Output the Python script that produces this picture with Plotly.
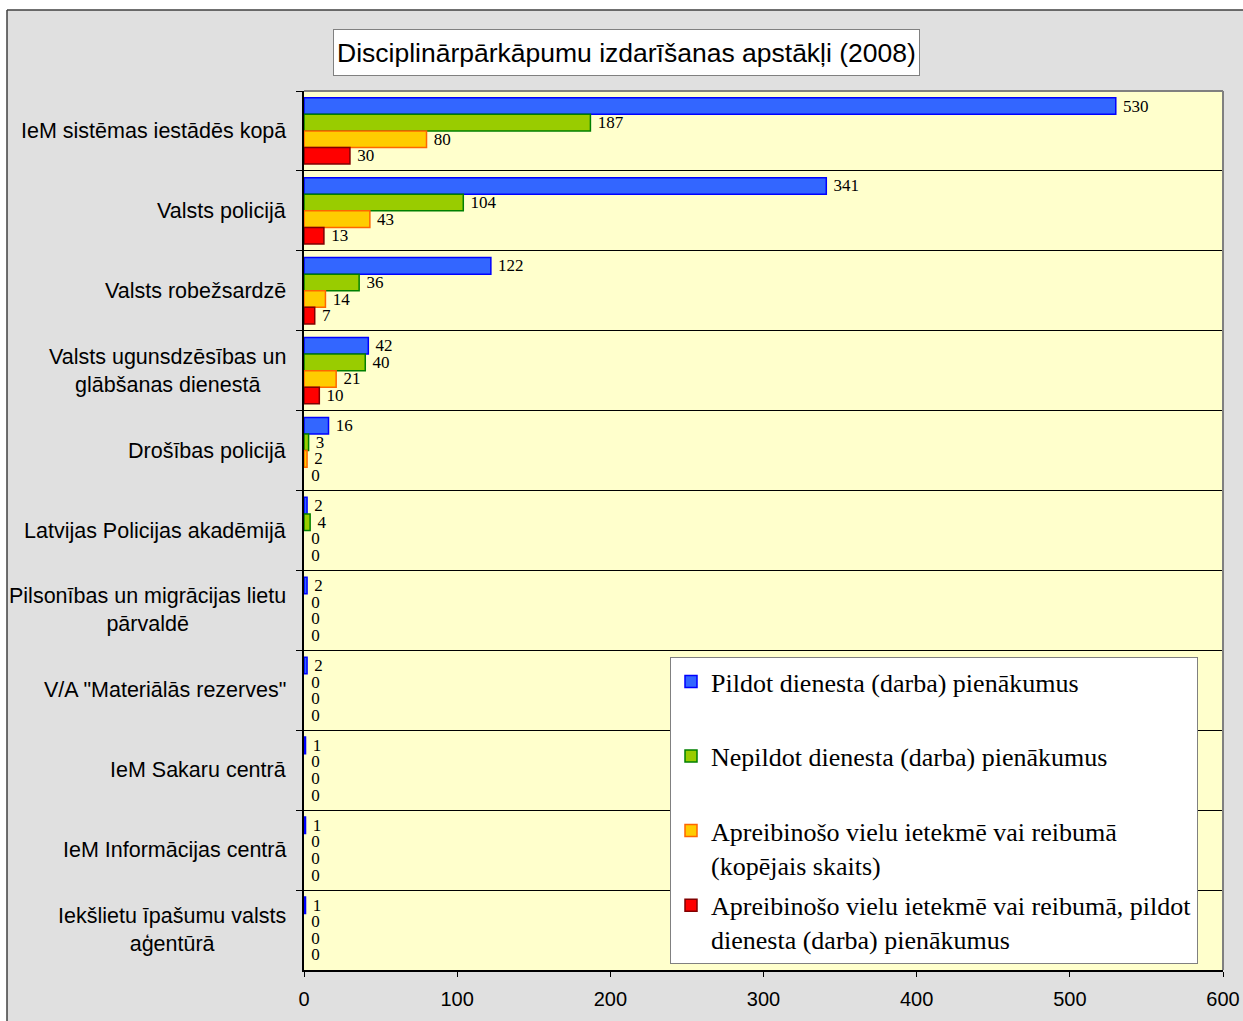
import plotly.graph_objects as go

# ---------------- data ----------------
categories = [
    "IeM sistēmas iestādēs kopā",
    "Valsts policijā",
    "Valsts robežsardzē",
    "Valsts ugunsdzēsības un<br>glābšanas dienestā",
    "Drošības policijā",
    "Latvijas Policijas akadēmijā",
    "Pilsonības un migrācijas lietu<br>pārvaldē",
    'V/A "Materiālās rezerves"',
    "IeM Sakaru centrā",
    "IeM Informācijas centrā",
    "Iekšlietu īpašumu valsts<br>aģentūrā",
]
series_names = [
    "Pildot dienesta (darba) pienākumus",
    "Nepildot dienesta (darba) pienākumus",
    "Apreibinošo vielu ietekmē vai reibumā<br>(kopējais skaits)",
    "Apreibinošo vielu ietekmē vai reibumā, pildot<br>dienesta (darba) pienākumus",
]
pildot = [530, 341, 122, 42, 16, 2, 2, 2, 1, 1, 1]
nepildot = [187, 104, 36, 40, 3, 4, 0, 0, 0, 0, 0]
apreib_kopa = [80, 43, 14, 21, 2, 0, 0, 0, 0, 0, 0]
apreib_pildot = [30, 13, 7, 10, 0, 0, 0, 0, 0, 0, 0]
x_tick_values = [0, 100, 200, 300, 400, 500, 600]
title_text = "Disciplinārpārkāpumu izdarīšanas apstākļi (2008)"

# ---------------- styles ----------------
fills = ["#3366FF", "#99CC00", "#FFCC00", "#FF0000"]
edges = ["#0000FF", "#008000", "#FF6600", "#800000"]
SANS = "Liberation Sans, Arial, sans-serif"
SERIF = "Liberation Serif, Times New Roman, serif"

W, H = 1243, 1021
L, R, T, B = 304, 20, 91, 51
PW, PH = W - L - R, H - T - B


def px2x(px):
    return (px - L) / PW


def py2y(py):
    return (H - B - py) / PH


fig = go.Figure()
all_values = [pildot, nepildot, apreib_kopa, apreib_pildot]
for i, (name, vals) in enumerate(zip(series_names, all_values)):
    legend_name = name if "<br>" in name else name + "<br> "
    fig.add_trace(go.Bar(
        y=categories, x=vals, orientation="h", name=legend_name,
        legendgroup=f"g{i}",
        marker=dict(color=fills[i],
                    line=dict(color=edges[i], width=[1.5 if v > 0 else 0 for v in vals])),
        text=[str(v) for v in vals], texttemplate="\u00a0%{text}", textposition="outside",
        textfont=dict(family=SERIF, size=17, color="black"),
        constraintext="none", cliponaxis=False,
    ))

annotations = []
for c in categories:
    annotations.append(dict(
        xref="paper", yref="y", x=px2x(288), y=c, xanchor="right", yanchor="middle",
        text=c, align="center", showarrow=False,
        font=dict(family=SANS, size=21.5, color="black"),
    ))
annotations.append(dict(
    xref="paper", yref="paper", x=px2x(626.5), y=py2y(52.5), xanchor="center", yanchor="middle",
    text=title_text, showarrow=False, font=dict(family=SANS, size=26.5, color="black"),
    bgcolor="white", bordercolor="#808080", borderwidth=1, borderpad=3, height=39,
))

shapes = [
    # white page strips around the chart frame
    dict(type="rect", xref="paper", yref="paper", x0=px2x(0), x1=px2x(7), y0=py2y(H), y1=py2y(0),
         fillcolor="white", line=dict(width=0), layer="above"),
    dict(type="rect", xref="paper", yref="paper", x0=px2x(0), x1=px2x(W), y0=py2y(10), y1=py2y(0),
         fillcolor="white", line=dict(width=0), layer="above"),
    # chart frame
    dict(type="line", xref="paper", yref="paper", x0=px2x(7), x1=px2x(7), y0=py2y(H), y1=py2y(10),
         line=dict(color="#404040", width=1.5), layer="above"),
    dict(type="line", xref="paper", yref="paper", x0=px2x(7), x1=px2x(W), y0=py2y(10), y1=py2y(10),
         line=dict(color="#404040", width=1.5), layer="above"),
    # plot-area border top and right
    dict(type="line", xref="paper", yref="paper", x0=0, x1=1, y0=1, y1=1,
         line=dict(color="#808080", width=2), layer="above"),
    dict(type="line", xref="paper", yref="paper", x0=1, x1=1, y0=0, y1=1,
         line=dict(color="#808080", width=2), layer="above"),
]

fig.update_layout(
    width=W, height=H,
    margin=dict(l=L, r=R, t=T, b=B, pad=0, autoexpand=False),
    paper_bgcolor="#E0E0E0",
    plot_bgcolor="#FFFFCC",
    barmode="group", bargap=0.17, bargroupgap=0,
    showlegend=True,
    legend=dict(
        x=px2x(670), y=py2y(657), xanchor="left", yanchor="top",
        bgcolor="white", bordercolor="#808080", borderwidth=1,
        font=dict(family=SERIF, size=26, color="black"),
        traceorder="grouped", tracegroupgap=4, valign="top",
    ),
    xaxis=dict(
        range=[0, 600], tickvals=x_tick_values, ticks="outside", ticklen=5, tickcolor="black",
        showline=True, linecolor="black", linewidth=1.5, showgrid=False, zeroline=False,
        tickfont=dict(family=SANS, size=20, color="black"), automargin=False,
        ticklabelstandoff=5,
    ),
    yaxis=dict(
        autorange="reversed", showticklabels=False, ticks="outside", tickson="boundaries",
        ticklen=6, tickcolor="black", showline=True, linecolor="black", linewidth=1.5,
        showgrid=True, gridcolor="black", gridwidth=1, automargin=False,
    ),
    annotations=annotations,
    shapes=shapes,
)

fig.write_html("out.html", post_script="document.body.style.margin='0';",
               config={"displayModeBar": False})
